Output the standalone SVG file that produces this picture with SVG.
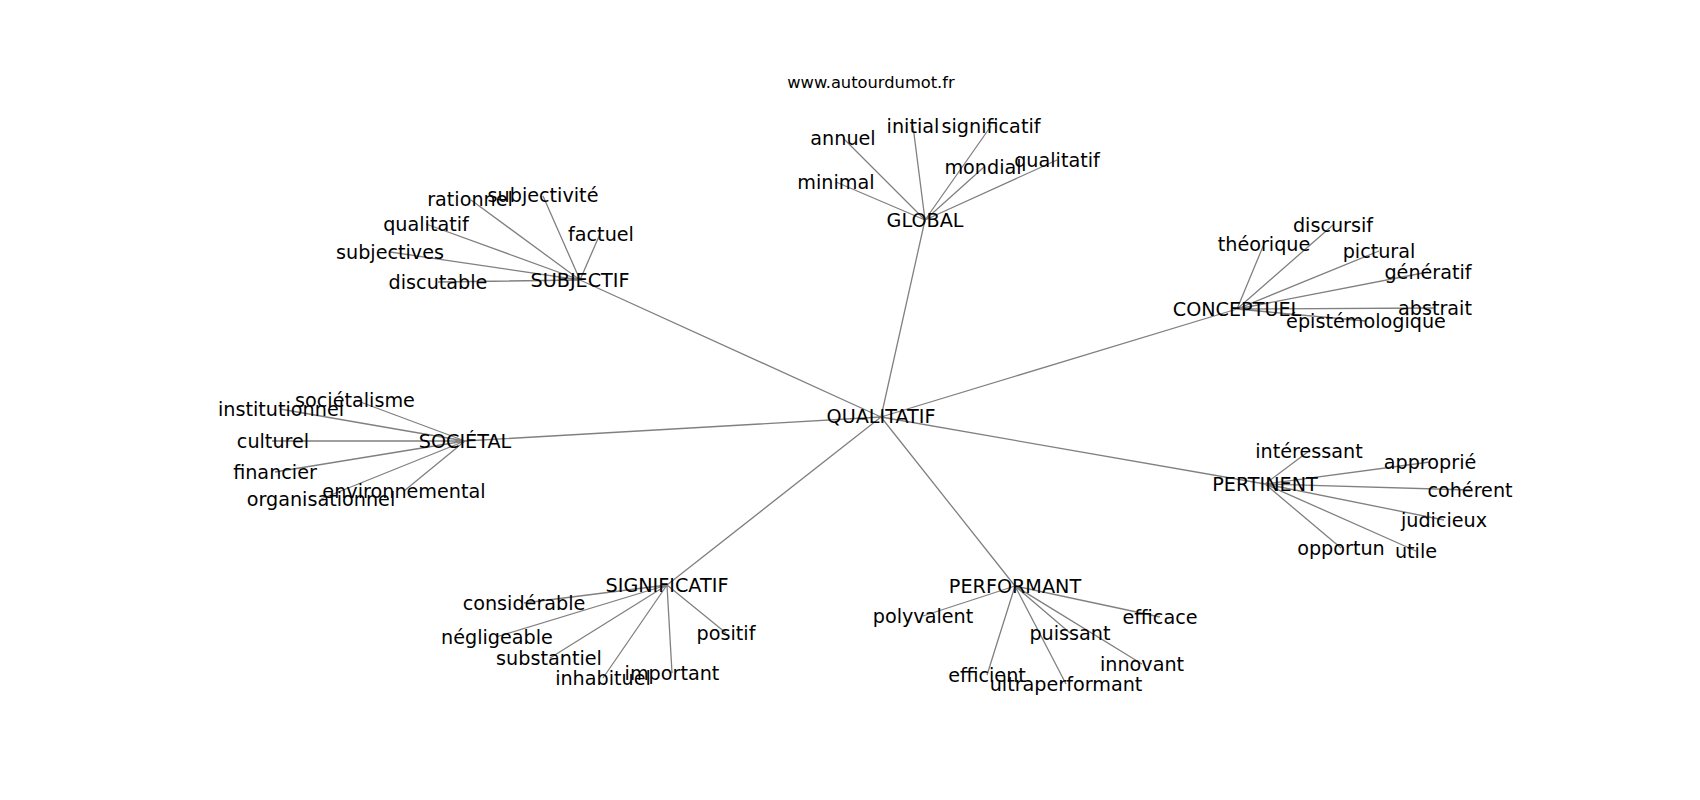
<svg xmlns="http://www.w3.org/2000/svg" width="1700" height="800" viewBox="0 0 1700 800">
<style>
.e{stroke:#808080;stroke-width:1.3;fill:none}
text{font-family:"DejaVu Sans","Liberation Sans",sans-serif;fill:#000;text-anchor:middle}
.n text{font-size:19.2px}
.t{font-size:16.3px}
</style>
<rect width="1700" height="800" fill="#fff"/>
<text class="t" x="871" y="88">www.autourdumot.fr</text>
<g id="edges">
<path class="e" d="M881 417L925 220M881 417L580 280M881 417L1237 309M881 417L465 441M881 417L1265 484M881 417L667 585M881 417L1015 586"/>
<path class="e" d="M925 220L843 138M925 220L913 126M925 220L991 126M925 220L984 167M925 220L1057 160M925 220L836 182"/>
<path class="e" d="M580 280L471 200M580 280L543 196M580 280L426 224M580 280L390 252M580 280L438 282M580 280L600 234"/>
<path class="e" d="M1237 309L1264 244M1237 309L1333 225M1237 309L1379 251M1237 309L1428 272M1237 309L1435 308M1237 309L1366 321"/>
<path class="e" d="M465 441L280 409M465 441L355 400M465 441L272 441M465 441L275 472M465 441L404 491M465 441L321 499"/>
<path class="e" d="M1265 484L1309 451M1265 484L1430 462M1265 484L1470 490M1265 484L1444 520M1265 484L1416 551M1265 484L1341 548"/>
<path class="e" d="M667 585L524 603M667 585L496 637M667 585L550 658M667 585L603 678M667 585L672 673M667 585L726 633"/>
<path class="e" d="M1015 586L923 616M1015 586L1070 633M1015 586L1160 617M1015 586L1142 664M1015 586L987 675M1015 586L1066 684"/>
</g>
<g class="n" id="n-qualitatif-hub"><text x="881" y="423">QUALITATIF</text></g>
<g class="n" id="n-global"><text x="925" y="226.5">GLOBAL</text></g>
<g class="n" id="n-annuel"><text x="843" y="144.5">annuel</text></g>
<g class="n" id="n-initial"><text x="913" y="132.5">initial</text></g>
<g class="n" id="n-significatif-g"><text x="991" y="132.5">significatif</text></g>
<g class="n" id="n-mondial"><text x="983" y="173.5">mondial</text></g>
<g class="n" id="n-qualitatif-g"><text x="1057" y="166.5">qualitatif</text></g>
<g class="n" id="n-minimal"><text x="836" y="188.5">minimal</text></g>
<g class="n" id="n-subjectif"><text x="580" y="287">SUBJECTIF</text></g>
<g class="n" id="n-rationnel"><text x="470" y="206">rationnel</text></g>
<g class="n" id="n-subjectivite"><text x="543" y="202">subjectivité</text></g>
<g class="n" id="n-qualitatif-s"><text x="426" y="230.5">qualitatif</text></g>
<g class="n" id="n-subjectives"><text x="390" y="258.5">subjectives</text></g>
<g class="n" id="n-discutable"><text x="438" y="288.5">discutable</text></g>
<g class="n" id="n-factuel"><text x="601" y="240.5">factuel</text></g>
<g class="n" id="n-conceptuel"><text x="1237" y="315.5">CONCEPTUEL</text></g>
<g class="n" id="n-theorique"><text x="1264" y="250.5">théorique</text></g>
<g class="n" id="n-discursif"><text x="1333" y="231.5">discursif</text></g>
<g class="n" id="n-pictural"><text x="1379" y="257.5">pictural</text></g>
<g class="n" id="n-generatif"><text x="1428" y="278.5">génératif</text></g>
<g class="n" id="n-abstrait"><text x="1435" y="314.5">abstrait</text></g>
<g class="n" id="n-epistemologique"><text x="1366" y="327.5">épistémologique</text></g>
<g class="n" id="n-societal"><text x="465" y="447.5">SOCIÉTAL</text></g>
<g class="n" id="n-institutionnel"><text x="281" y="415.5">institutionnel</text></g>
<g class="n" id="n-societalisme"><text x="355" y="406.5">sociétalisme</text></g>
<g class="n" id="n-culturel"><text x="273" y="447.5">culturel</text></g>
<g class="n" id="n-financier"><text x="275" y="478.5">financier</text></g>
<g class="n" id="n-environnemental"><text x="404" y="497.5">environnemental</text></g>
<g class="n" id="n-organisationnel"><text x="321" y="505.5">organisationnel</text></g>
<g class="n" id="n-pertinent"><text x="1265" y="491">PERTINENT</text></g>
<g class="n" id="n-interessant"><text x="1309" y="457.5">intéressant</text></g>
<g class="n" id="n-approprie"><text x="1430" y="468.5">approprié</text></g>
<g class="n" id="n-coherent"><text x="1470" y="497">cohérent</text></g>
<g class="n" id="n-judicieux"><text x="1444" y="527">judicieux</text></g>
<g class="n" id="n-utile"><text x="1416" y="558">utile</text></g>
<g class="n" id="n-opportun"><text x="1341" y="555">opportun</text></g>
<g class="n" id="n-significatif"><text x="667" y="591.5">SIGNIFICATIF</text></g>
<g class="n" id="n-considerable"><text x="524" y="609.5">considérable</text></g>
<g class="n" id="n-negligeable"><text x="497" y="643.5">négligeable</text></g>
<g class="n" id="n-substantiel"><text x="549" y="664.5">substantiel</text></g>
<g class="n" id="n-inhabituel"><text x="603" y="684.5">inhabituel</text></g>
<g class="n" id="n-important"><text x="672" y="679.5">important</text></g>
<g class="n" id="n-positif"><text x="726" y="639.5">positif</text></g>
<g class="n" id="n-performant"><text x="1015" y="593">PERFORMANT</text></g>
<g class="n" id="n-polyvalent"><text x="923" y="622.5">polyvalent</text></g>
<g class="n" id="n-puissant"><text x="1070" y="639.5">puissant</text></g>
<g class="n" id="n-efficace"><text x="1160" y="624">efficace</text></g>
<g class="n" id="n-innovant"><text x="1142" y="671">innovant</text></g>
<g class="n" id="n-efficient"><text x="987" y="681.5">efficient</text></g>
<g class="n" id="n-ultraperformant"><text x="1066" y="691">ultraperformant</text></g>
</svg>
